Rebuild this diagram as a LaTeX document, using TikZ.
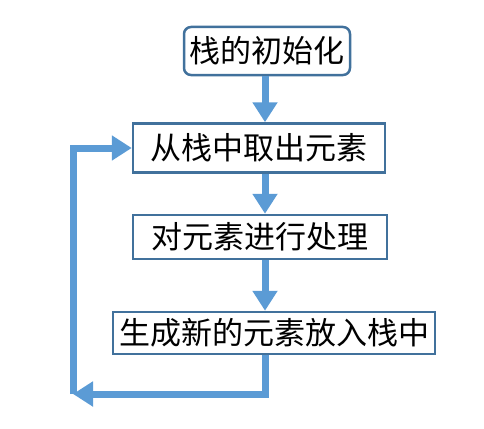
\documentclass[tikz,border=0pt]{standalone}
\usepackage{fontspec}
\newfontfamily\cjk{Noto Sans CJK SC}
\usetikzlibrary{arrows.meta}
\definecolor{boxline}{HTML}{41719C}
\definecolor{arrblue}{HTML}{5B9BD5}
\begin{document}
\begin{tikzpicture}[x=1pt,y=1pt,
  box/.style={draw=boxline,line width=2.5pt,fill=white,inner sep=0pt,
    font=\cjk\fontsize{31}{31}\selectfont,text=black,anchor=center},
  arr/.style={draw=arrblue,line width=7pt,-{Triangle[length=20pt,width=24pt]}}]
\useasboundingbox (0,0) rectangle (484,-428);
\node[box,rounded corners=7pt,minimum width=166pt,minimum height=48pt] (b1) at (267,-51) {栈的初始化};
\node[box,minimum width=252pt,minimum height=49pt] (b2) at (259,-148) {从栈中取出元素};
\node[box,minimum width=254pt,minimum height=44pt] (b3) at (260,-237) {对元素进行处理};
\node[box,minimum width=322pt,minimum height=42pt] (b4) at (274,-333) {生成新的元素放入栈中};
\coordinate (ax) at (265,0);
\coordinate (c1) at (73,-394);
\draw[arr] (b1.south -| ax) -- (b2.north -| ax);
\draw[arr] (b2.south -| ax) -- (b3.north -| ax);
\draw[arr] (b3.south -| ax) -- (b4.north -| ax);
\draw[arr] (b4.south -| ax) |- (c1);
\draw[arr] (c1) |- (b2.west);
\end{tikzpicture}
\end{document}
